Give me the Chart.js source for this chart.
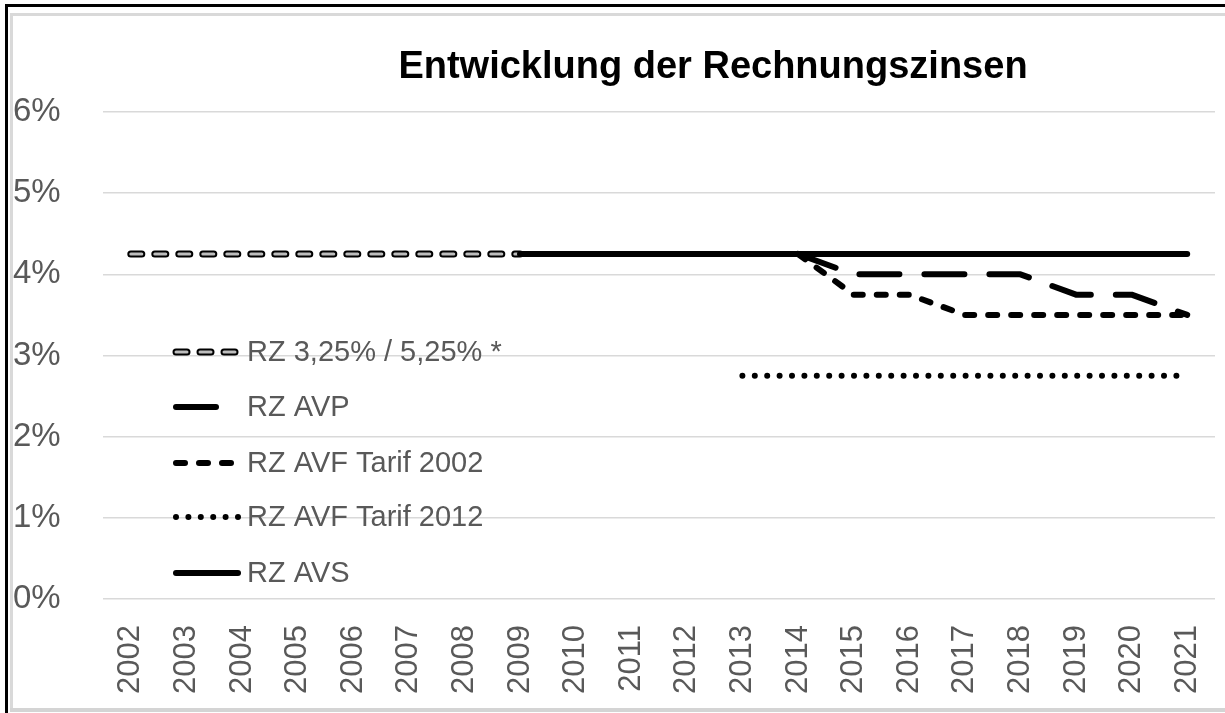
<!DOCTYPE html>
<html lang="de">
<head>
    <meta charset="UTF-8">
    <title>Entwicklung der Rechnungszinsen</title>
    <script src="https://cdn.jsdelivr.net/npm/chart.js"></script>
    <style>
        body {
            margin: 0;
            background: #ffffff;
            overflow: hidden;
        }

        .frame {
            position: absolute;
            left: 0;
            top: 0;
            width: 1225px;
            height: 713px;
        }

        .line {
            position: absolute;
            pointer-events: none;
        }
    </style>
</head>
<body>
    <div class="frame">
        <canvas id="zinsChart"></canvas>
    </div>

    <!-- Rahmen -->
    <div class="line" style="left:5px; top:4px; width:3px; height:709px; background:#000;"></div>
    <div class="line" style="left:5px; top:4px; width:1220px; height:3px; background:#000;"></div>
    <div class="line" style="left:10px; top:13px; width:3px; height:699px; background:#d9d9d9;"></div>
    <div class="line" style="left:10px; top:13px; width:1215px; height:3px; background:#d9d9d9;"></div>
    <div class="line" style="left:10px; top:708px; width:1215px; height:4px; background:#d4d4d4;"></div>

<script>
    // Daten
    const jahre = ["2002", "2003", "2004", "2005", "2006", "2007", "2008", "2009", "2010", "2011",
                   "2012", "2013", "2014", "2015", "2016", "2017", "2018", "2019", "2020", "2021"];
    const rz325 = [4.25, 4.25, 4.25, 4.25, 4.25, 4.25, 4.25, 4.25, null, null,
                   null, null, null, null, null, null, null, null, null, null];
    const rzAVP = [null, null, null, null, null, null, null, null, null, null,
                   null, null, 4.25, 4.0, 4.0, 4.0, 4.0, 3.75, 3.75, 3.5];
    const rzAVF2002 = [null, null, null, null, null, null, null, null, null, null,
                       null, null, 4.25, 3.75, 3.75, 3.5, 3.5, 3.5, 3.5, 3.5];
    const rzAVF2012 = [null, null, null, null, null, null, null, null, null, null,
                       null, 2.75, 2.75, 2.75, 2.75, 2.75, 2.75, 2.75, 2.75, 2.75];
    const rzAVS = [null, null, null, null, null, null, null, 4.25, 4.25, 4.25,
                   4.25, 4.25, 4.25, 4.25, 4.25, 4.25, 4.25, 4.25, 4.25, 4.25];
    const yTicks = [0, 1, 2, 3, 4, 5, 6];
    const legendNames = ["RZ 3,25% / 5,25% *", "RZ AVP", "RZ AVF Tarif 2002", "RZ AVF Tarif 2012", "RZ AVS"];

    const grau = "#595959";
    const schrift = "'Liberation Sans', Arial, sans-serif";

    // Linienstile (auch fuer die Legende)
    const stile = [
        { width: 7, dash: [11, 13], color: "#000", inner: { width: 3, color: "#bdbdbd" } },
        { width: 6, dash: [40, 25], color: "#000" },
        { width: 6, dash: [9, 14], color: "#000" },
        { width: 6, dash: [0, 12.4], color: "#000" },
        { width: 6, dash: [], color: "#000" }
    ];

    function linie(data, stil, order, color, width) {
        return {
            data: data,
            borderColor: color || stil.color,
            borderWidth: width || stil.width,
            borderDash: stil.dash,
            borderCapStyle: "round",
            borderJoinStyle: "round",
            pointRadius: 0,
            tension: 0,
            fill: false,
            order: order
        };
    }

    // Legende + Titel selbst zeichnen
    const extras = {
        id: "extras",
        afterDraw(chart) {
            const ctx = chart.ctx;
            ctx.save();
            ctx.fillStyle = "#000";
            ctx.font = "bold 38px " + schrift;
            ctx.textAlign = "center";
            ctx.textBaseline = "alphabetic";
            ctx.fillText("Entwicklung der Rechnungszinsen", 713, 78);

            const rows = [352, 407, 463, 517, 573];
            ctx.font = "29px " + schrift;
            ctx.textAlign = "left";
            ctx.textBaseline = "middle";
            for (let i = 0; i < legendNames.length; i++) {
                const s = stile[i];
                const y = rows[i];
                const x1 = 176, x2 = (i >= 3) ? 238 : 235;
                ctx.lineCap = "round";
                ctx.strokeStyle = s.color;
                ctx.lineWidth = s.width;
                ctx.setLineDash(s.dash);
                ctx.beginPath();
                ctx.moveTo(x1, y);
                ctx.lineTo(x2, y);
                ctx.stroke();
                if (s.inner) {
                    ctx.strokeStyle = s.inner.color;
                    ctx.lineWidth = s.inner.width;
                    ctx.beginPath();
                    ctx.moveTo(x1, y);
                    ctx.lineTo(x2, y);
                    ctx.stroke();
                }
                ctx.setLineDash([]);
                ctx.fillStyle = grau;
                ctx.fillText(legendNames[i], 247, y + 1);
            }
            ctx.restore();
        }
    };

    new Chart(document.getElementById("zinsChart"), {
        type: "line",
        data: {
            labels: jahre,
            datasets: [
                linie(rz325, stile[0], 1, stile[0].inner.color, stile[0].inner.width),
                linie(rz325, stile[0], 2),
                linie(rzAVP, stile[1], 3),
                linie(rzAVF2002, stile[2], 4),
                linie(rzAVF2012, stile[3], 5),
                linie(rzAVS, stile[4], 0)
            ]
        },
        options: {
            responsive: true,
            maintainAspectRatio: false,
            animation: false,
            layout: { padding: { top: 112, left: 13, right: 10, bottom: 0 } },
            plugins: {
                legend: { display: false },
                title: { display: false },
                tooltip: { enabled: false }
            },
            scales: {
                x: {
                    offset: true,
                    grid: { display: false, drawTicks: false },
                    border: { display: false },
                    ticks: {
                        color: grau,
                        font: { family: schrift, size: 31 },
                        minRotation: 90,
                        maxRotation: 90,
                        autoSkip: false,
                        padding: 26
                    },
                    afterFit(scale) {
                        scale.height = 114;
                        scale.paddingLeft = 0;
                        scale.paddingRight = 0;
                    }
                },
                y: {
                    min: 0,
                    max: 6,
                    afterBuildTicks(scale) { scale.ticks = yTicks.map(v => ({ value: v })); },
                    grid: { color: "#d9d9d9", lineWidth: 1.5, drawTicks: false },
                    border: { display: false },
                    ticks: {
                        color: grau,
                        font: { family: schrift, size: 33 },
                        crossAlign: "far",
                        padding: 0,
                        callback: v => v + "%"
                    },
                    afterFit(scale) { scale.width = 90; }
                }
            }
        },
        plugins: [extras]
    });
</script>
</body>
</html>
